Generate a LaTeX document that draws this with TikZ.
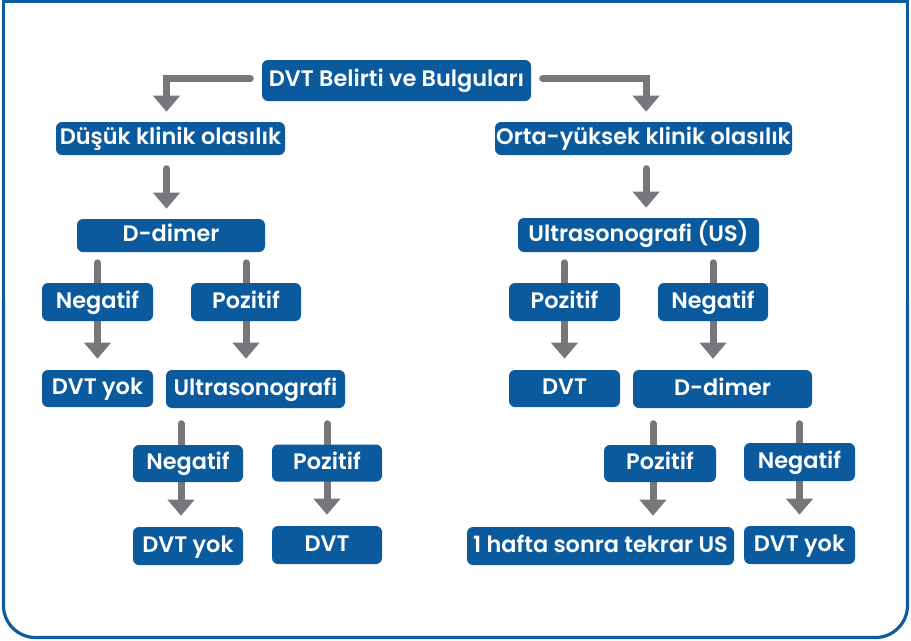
\documentclass[tikz,border=0pt]{standalone}
\usepackage{fontspec}
\setmainfont{Poppins}[BoldFont={Poppins SemiBold}]
\usetikzlibrary{arrows.meta,calc}
\pgfdeclarelayer{bg}
\pgfsetlayers{bg,main}
\definecolor{boxblue}{HTML}{0B5A9E}
\definecolor{framblue}{HTML}{0B5CA0}
\definecolor{arrgrey}{HTML}{76777B}
\tikzset{
  bx/.style={fill=boxblue, rounded corners=4.5pt, text=white, font=\bfseries\fontsize{16.8}{20}\selectfont,
    inner sep=0pt, text height=0.92em, text depth=0pt, align=center},
  cn/.style={draw=arrgrey, line width=5.25pt, line cap=round},
  ah/.style={cn, -{Triangle[width=19.5pt,length=12pt]}},
  frm/.style={draw=framblue, line width=2.4pt},
}
\begin{document}
\begin{tikzpicture}[x=0.75pt,y=-0.75pt]
\useasboundingbox (0,0) rectangle (911,640);
% frame: square top corners, rounded bottom corners
\fill[framblue] (1.9,0) rectangle (909.1,3.2);
\fill[framblue] (1.9,0) rectangle (5.1,320);
\fill[framblue] (905.9,0) rectangle (909.1,320);
\draw[frm, rounded corners=24pt] (907.5,300) -- (907.5,637.5) -- (3.5,637.5) -- (3.5,300);

\node[bx, minimum width=201.75pt, minimum height=30.75pt] (root) at (396.5,80.5) {DVT Belirti ve Bulguları};
\node[bx, minimum width=171.75pt, minimum height=24.75pt] (low) at (170.5,138.5) {Düşük klinik olasılık};
\node[bx, minimum width=222.75pt, minimum height=24.75pt] (high) at (643.5,138.5) {Orta-yüksek klinik olasılık};
\node[bx, minimum width=141pt, minimum height=24.75pt] (ddL) at (171,235.5) {D-dimer};
\node[bx, minimum width=180.75pt, minimum height=25.5pt] (usR) at (638.5,235) {Ultrasonografi (US)};
\node[bx, minimum width=83.25pt, minimum height=28.5pt] (negL) at (97.5,302) {Negatif};
\node[bx, minimum width=82.5pt, minimum height=28.5pt] (posL) at (246,302) {Pozitif};
\node[bx, minimum width=83.25pt, minimum height=28.5pt] (posR) at (564.5,302) {Pozitif};
\node[bx, minimum width=82.5pt, minimum height=28.5pt] (negR) at (713,302) {Negatif};
\node[bx, minimum width=83.25pt, minimum height=27.75pt] (dvtyokL) at (97.5,388.5) {DVT yok};
\node[bx, minimum width=134.25pt, minimum height=28.5pt] (usL) at (255.5,389) {Ultrasonografi};
\node[bx, minimum width=83.25pt, minimum height=27.75pt] (dvtR) at (564.5,388.5) {DVT};
\node[bx, minimum width=134.25pt, minimum height=28.5pt] (ddR) at (722.5,389) {D-dimer};
\node[bx, minimum width=82.5pt, minimum height=27.75pt] (negL2) at (188,463.5) {Negatif};
\node[bx, minimum width=82.5pt, minimum height=27.75pt] (posL2) at (327,463) {Pozitif};
\node[bx, minimum width=82.5pt, minimum height=28.5pt] (dvtyokL2) at (188,546) {DVT yok};
\node[bx, minimum width=82.5pt, minimum height=28.5pt] (dvtL2) at (327,545) {DVT};
\node[bx, minimum width=84pt, minimum height=27.75pt] (posR2) at (660,463.5) {Pozitif};
\node[bx, minimum width=83.25pt, minimum height=28.5pt] (negR2) at (799.5,462) {Negatif};
\node[bx, minimum width=200.25pt, minimum height=28.5pt] (weekR) at (600.5,546) {1 hafta sonra tekrar US};
\node[bx, minimum width=83.25pt, minimum height=28.5pt] (dvtyokR) at (799.5,545) {DVT yok};

\coordinate (xl) at ([xshift=-3pt]low.north);
\coordinate (xh) at ([xshift=2pt]high.north);
\coordinate (xnL2) at ([xshift=-5.25pt]negL2.north);
\coordinate (xpR2) at ([xshift=-5.25pt]posR2.north);

\begin{pgfonlayer}{bg}
% top split
\draw[ah, shorten <=8.6pt, shorten >=7.5pt] ([yshift=1.5pt]root.west) -| (xl);
\draw[ah, shorten <=8.6pt, shorten >=7.5pt] ([yshift=1.5pt]root.east) -| (xh);
% level 2 to 3
\draw[ah, shorten <=10.1pt, shorten >=7.5pt] ([xshift=-3pt]low.south) -- ([xshift=-3pt]low.south |- ddL.north);
\draw[ah, shorten <=10.1pt, shorten >=7.5pt] (xh |- high.south) -- (xh |- usR.north);
% left D-dimer
\draw[cn, shorten <=7.9pt] (negL.north |- ddL.south) -- (negL.center);
\draw[ah, shorten >=8.25pt] (negL.south) -- (dvtyokL.north);
\draw[cn, shorten <=7.9pt] (posL.north |- ddL.south) -- (posL.center);
\draw[ah, shorten >=8.25pt] (posL.south) -- (posL.south |- usL.north);
% right US
\draw[cn, shorten <=7.9pt] (posR.north |- usR.south) -- (posR.center);
\draw[ah, shorten >=8.25pt] (posR.south) -- (dvtR.north);
\draw[cn, shorten <=7.9pt] (negR.north |- usR.south) -- (negR.center);
\draw[ah, shorten >=8.25pt] (negR.south) -- (negR.south |- ddR.north);
% left Ultrasonografi
\draw[cn, shorten <=11.6pt] (xnL2 |- usL.south) -- (xnL2 |- negL2.center);
\draw[ah, shorten >=8.25pt] (xnL2 |- negL2.south) -- (xnL2 |- dvtyokL2.north);
\draw[cn, shorten <=11.6pt] (posL2.north |- usL.south) -- (posL2.center);
\draw[ah, shorten >=8.25pt] (posL2.south) -- (dvtL2.north);
% right D-dimer
\draw[cn, shorten <=11.6pt] (xpR2 |- ddR.south) -- (xpR2 |- posR2.center);
\draw[ah, shorten >=8.25pt] (xpR2 |- posR2.south) -- (xpR2 |- weekR.north);
\draw[cn, shorten <=11.6pt] (negR2.north |- ddR.south) -- (negR2.center);
\draw[ah, shorten >=8.25pt] (negR2.south) -- (negR2.south |- dvtyokR.north);
\end{pgfonlayer}
\end{tikzpicture}
\end{document}
